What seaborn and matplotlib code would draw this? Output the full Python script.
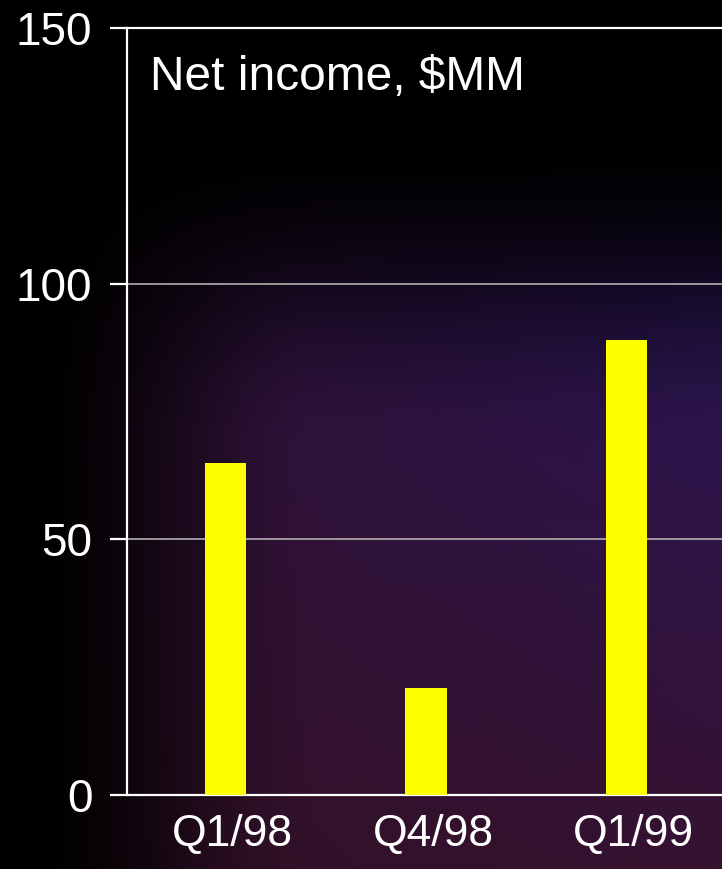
import numpy as np
import pandas as pd
import matplotlib
matplotlib.use("Agg")
import matplotlib.pyplot as plt
import matplotlib.transforms as mtransforms
import seaborn as sns

categories = ["Q1/98", "Q4/98", "Q1/99"]
net_income = [65, 21, 89]
y_ticks = [0, 50, 100, 150]
title_text = "Net income, $MM"

sns.set_theme(style="white")
plt.rcParams["font.family"] = ["Liberation Sans", "DejaVu Sans"]

W, H = 722, 869
fig = plt.figure(figsize=(W / 100, H / 100), dpi=100)
fig.patch.set_facecolor("black")

# background gradient
bg = fig.add_axes([0, 0, 1, 1], zorder=-10)
yy, xx = np.mgrid[0:H, 0:W].astype(float)

def smooth(t):
    t = np.clip(t, 0, 1)
    return t * t * (3 - 2 * t)

inten = smooth((xx - 20) / 300.0) * smooth((yy - 130) / 330.0)
fx = (xx / W)[..., None]
fy = np.clip((yy - 300) / 569.0, 0, 1)[..., None]
c_tl = np.array([0x30, 0x10, 0x30]) / 255.0
c_tr = np.array([0x2a, 0x16, 0x55]) / 255.0
c_bl = np.array([0x30, 0x10, 0x24]) / 255.0
c_br = np.array([0x36, 0x12, 0x30]) / 255.0
col = (c_tl * (1 - fx) * (1 - fy) + c_tr * fx * (1 - fy)
       + c_bl * (1 - fx) * fy + c_br * fx * fy)
img = col * inten[..., None]
bg.imshow(np.clip(img, 0, 1), aspect="auto", extent=[0, 1, 0, 1], origin="upper")
bg.axis("off")

left = 127 / W
bottom = 1 - 795 / H
top = 1 - 28 / H
ax = fig.add_axes([left, bottom, 1 - left, top - bottom])
ax.set_facecolor("none")

df = pd.DataFrame({"quarter": categories, "value": net_income})
sns.barplot(data=df, x="quarter", y="value", color="#ffff00", width=0.205,
            saturation=1, ax=ax, zorder=3, linewidth=0, edgecolor="none")

ax.set_xlim(-0.49, 2.475)
ax.set_ylim(0, 150)
ax.set_yticks(y_ticks)
ax.set_yticklabels([str(v) for v in y_ticks])
ax.set_xlabel("")
ax.set_ylabel("")
for v in y_ticks[1:-1]:
    ax.axhline(v, color="#b0b0b0", lw=1.2, zorder=1)

for s in ["left", "bottom", "top"]:
    ax.spines[s].set_visible(True)
    ax.spines[s].set_color("white")
    ax.spines[s].set_linewidth(1.6)
ax.spines["right"].set_visible(False)

ax.tick_params(axis="y", colors="white", labelsize=33, length=12, width=1.6,
               pad=13, left=True)
ax.tick_params(axis="x", colors="white", labelsize=32, length=0, pad=14)

offset = mtransforms.ScaledTranslation(7 / 100, 0, fig.dpi_scale_trans)
for lab in ax.get_xticklabels():
    lab.set_transform(lab.get_transform() + offset)

fig.text(150 / W, 1 - 90 / H, title_text, color="white", fontsize=34.5,
         ha="left", va="baseline")

fig.savefig("out.png", dpi=100, facecolor=fig.get_facecolor())
